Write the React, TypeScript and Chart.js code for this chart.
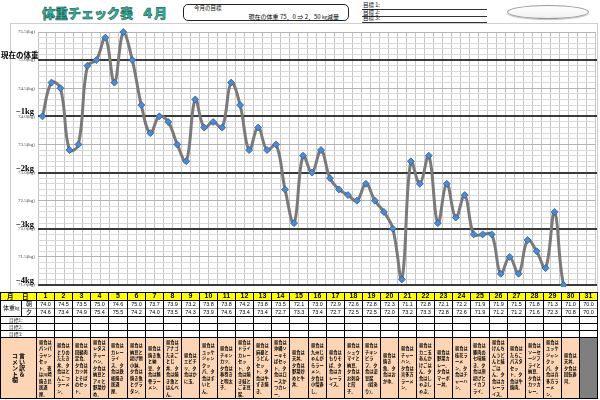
import React, { useEffect, useRef } from "react";
import { Chart, registerables } from "chart.js";

Chart.register(...registerables);

const DAYS = [1, 2, 3, 4, 5, 6, 7, 8, 9, 10, 11, 12, 13, 14, 15, 16, 17, 18, 19, 20, 21, 22, 23, 24, 25, 26, 27, 28, 29, 30, 31];
const MORNING = [74.0, 74.5, 73.5, 75.0, 74.6, 75.0, 73.7, 73.9, 73.2, 73.8, 73.8, 74.2, 73.8, 73.5, 72.1, 73.0, 72.9, 72.6, 72.8, 72.3, 71.1, 72.8, 72.1, 72.2, 71.9, 71.9, 71.5, 71.8, 71.3, 71.0, 70.0];
const EVENING = [74.6, 73.4, 74.9, 75.4, 75.5, 74.2, 74.0, 73.5, 74.3, 73.9, 74.6, 73.4, 73.4, 72.7, 73.3, 73.4, 72.7, 72.5, 72.5, 72.0, 73.2, 73.3, 72.8, 72.6, 71.9, 71.2, 71.2, 71.6, 72.3, 70.8, 70.0];
const Y_TICKS = [71.0, 71.5, 72.0, 72.5, 73.0, 73.5, 74.0, 74.5, 75.0, 75.5];
const Y_TICK_LABELS = ["71.0(kg)", "71.5(kg)", "72.0(kg)", "72.5(kg)", "73.0(kg)", "73.5(kg)", "74.0(kg)", "74.5(kg)", "75.0(kg)", "75.5(kg)"];
const GOAL_VALUES = [75, 74, 73, 72, 71];
const GOAL_LABELS = ["現在の体重", "−1kg", "−2kg", "−3kg", "−4kg"];
const GOAL_ROWS = ["目標 1:", "目標 2:", "目標 3:"];
const GOAL_ROW_LABELS = ["目標1:", "目標2:", "目標3:"];
const CURRENT_WEIGHT = "75．0";
const TARGET_LOSS = "2．50";
const COMMENTS = [
  "昼食はパンパラヤンセット。夜は川崎焼き鳥居酒屋。",
  "昼食はとりのたたき丼。夕食はとんこつラーメン。",
  "昼食は回鍋肉定食。夕食はカツ丼とそばのセット。",
  "昼食はレタスチャーハン。夕食は納豆とアミと野菜炒め。",
  "昼食はカレーライス。夕食は鉄板焼き居酒屋。",
  "昼食は納豆と揚げ物小鉢。夕食は焼き魚とグラタン。",
  "昼食は焼き魚と納豆。夕食は豚骨ラーメン。",
  "昼食はアナゴたまごとじ丼。夕食は焼き魚とはんぺん。",
  "昼食はエビチリ。夕食はかに玉。",
  "昼食はユッケジャンクッパ。夕食はすいとん。",
  "昼食はチキンカツ。夕食は春巻きと明太子。",
  "昼食はドライカレーセット。夕食は焼き鮭とごま豆腐。",
  "昼食は麻婆とうどんセット。夕食は牛すき焼き。",
  "昼食は沖縄ソーキそばセット。夕食はロースかつカレー。",
  "昼食は天丼。夕食は野菜炒めと牛丼。",
  "昼食は九州じゃんがらラーメン。夕食は小僧寿し。",
  "昼食はもりそば。夕食はカレーライス。",
  "昼食はシュウマイと納豆。夕食はお刺身と餃子。",
  "昼食はチキンピラフ。夕食は湯豆腐（鱈あり）。",
  "昼食は焼き魚。夕食はおかゆ。",
  "昼食はチャーハン。夕食は喜多方ラーメン。",
  "昼食はカニ玉あんかけごはん。夕食はしゃぶしゃぶ。",
  "昼食は野菜カレー。夕食はマーボー丼。",
  "昼食は桂花ラーメン。夕食はチャーハン。",
  "昼食は豚肉の七味焼き。夕食は唐揚げとイカフライ。",
  "昼食はけんちんうどんと鮭ごはん。夕食はカレーライス。",
  "昼食はたらこパスタセット。夕食は牛焼肉。",
  "昼食はソーセージフライと納豆。夕食はカツカレー。",
  "昼食はユッケジャンクッパ。夕食は喜多方ラーメン。",
  "昼食は天丼。夕食は回転寿司。",
  "",
];

const JP = '"Noto Sans CJK JP", sans-serif';
const SANS = '"Liberation Sans", "Noto Sans CJK JP", sans-serif';
const ROW_Y = [292, 300, 308, 316, 323, 330, 337, 398];
const colX = (i: number) => Math.round(36 + i * 18.1);

export default function App() {
  const canvasRef = useRef<HTMLCanvasElement>(null);

  useEffect(() => {
    if (!canvasRef.current) return;
    const labels = DAYS.flatMap((d) => [`${d}日朝`, `${d}日夕`]);
    const data = DAYS.flatMap((_, i) => [MORNING[i], EVENING[i]]);

    const framePlugin = {
      id: "frameAndGoals",
      beforeDraw(chart: any) {
        const { ctx } = chart;
        ctx.save();
        ctx.fillStyle = "#fff";
        ctx.fillRect(0, 0, chart.width, chart.height);
        ctx.strokeStyle = "#cfcfcf";
        ctx.lineWidth = 1;
        ctx.strokeRect(10.5, 0.5, 587, chart.height + 5);
        ctx.restore();
      },
      beforeDatasetsDraw(chart: any) {
        const { ctx, chartArea: a, scales } = chart;
        const y = scales.y;
        ctx.save();
        GOAL_VALUES.forEach((v, i) => {
          const py = Math.round(y.getPixelForValue(v));
          ctx.strokeStyle = "#3a3a3a";
          ctx.lineWidth = 2;
          ctx.beginPath();
          ctx.moveTo(a.left, py);
          ctx.lineTo(a.right + 2, py);
          ctx.stroke();
          ctx.fillStyle = "#000";
          ctx.textBaseline = "alphabetic";
          if (i === 0) {
            ctx.font = 'bold 7.5px "Noto Sans CJK JP"';
            ctx.textAlign = "left";
            ctx.fillText(GOAL_LABELS[i], 1, py - 2.5);
          } else {
            ctx.font = 'bold 8.5px "Liberation Serif"';
            ctx.textAlign = "right";
            ctx.fillText(GOAL_LABELS[i], 34, py - 2.5);
          }
        });
        ctx.restore();
      },
    };

    const chart = new Chart(canvasRef.current, {
      type: "line",
      data: {
        labels,
        datasets: [
          {
            data,
            borderColor: "#7a7a7a",
            borderWidth: 3,
            tension: 0.4,
            pointStyle: "rectRot",
            pointRadius: 3.5,
            pointBackgroundColor: "#4d8ad0",
            pointBorderColor: "#2c5f9e",
            pointBorderWidth: 0.8,
            clip: { left: 5, top: 5, right: 5, bottom: 2 } as any,
          },
        ],
      },
      options: {
        responsive: false,
        animation: false,
        layout: { padding: { left: 0, right: 5, top: 9, bottom: 8 } },
        plugins: { legend: { display: false }, tooltip: { enabled: false } },
        scales: {
          x: {
            type: "category",
            offset: true,
            grid: { offset: true, color: "#c6c6c6", drawTicks: false, lineWidth: 1 },
            ticks: { display: false },
            border: { display: false },
            afterFit: (s: any) => {
              s.height = 0;
            },
          },
          y: {
            min: 71,
            max: 75.5,
            afterFit: (s: any) => {
              s.width = 38;
            },
            ticks: {
              stepSize: 0.1,
              autoSkip: false,
              maxTicksLimit: 100,
              padding: 3,
              color: "#444",
              font: { size: 5, family: '"Liberation Serif"' },
              callback: (v: any) => {
                const i = Y_TICKS.findIndex((t) => Math.abs(t - Number(v)) < 1e-6);
                return i >= 0 ? Y_TICK_LABELS[i] : "";
              },
            },
            grid: {
              drawTicks: false,
              color: (ctx: any) => {
                const v = ctx.tick ? ctx.tick.value : 0;
                return Y_TICKS.some((t) => Math.abs(t - v) < 1e-6) ? "#b4b4b4" : "#dadada";
              },
            },
            border: { display: false },
          },
        },
      },
      plugins: [framePlugin],
    } as any);
    return () => chart.destroy();
  }, []);

  const cellCenter = (i: number, top: number, h: number, content: React.ReactNode, style: React.CSSProperties = {}, key?: string) => (
    <div
      key={key}
      style={{
        position: "absolute",
        left: colX(i) + 1,
        top,
        width: colX(i + 1) - colX(i) - 1,
        height: h,
        display: "flex",
        alignItems: "center",
        justifyContent: "center",
        whiteSpace: "nowrap",
        ...style,
      }}
    >
      {content}
    </div>
  );

  return (
    <div
      style={{
        position: "absolute",
        left: 0,
        top: 0,
        width: 600,
        height: 400,
        overflow: "hidden",
        background: "#fff",
        fontFamily: SANS,
        color: "#000",
      }}
    >
      {/* Title */}
      <div
        style={{
          position: "absolute",
          left: 42,
          top: 5,
          fontFamily: JP,
          fontWeight: 900,
          fontSize: 13,
          lineHeight: "15px",
          color: "#38b39d",
          WebkitTextStroke: "0.5px #0f4d44",
          whiteSpace: "nowrap",
        }}
      >
        体重チェック表<span style={{ marginLeft: 8 }}>４月</span>
      </div>

      {/* Goal box */}
      <div
        style={{
          position: "absolute",
          left: 183,
          top: 4,
          width: 166,
          height: 17,
          border: "1px solid #222",
          borderRadius: 5,
          boxSizing: "border-box",
          fontFamily: JP,
        }}
      >
        <div style={{ position: "absolute", left: 10, top: 0, fontSize: 5.5, lineHeight: "7px", whiteSpace: "nowrap" }}>今月の目標</div>
        <div style={{ position: "absolute", right: 9, top: 8, fontSize: 6, lineHeight: "7px", whiteSpace: "nowrap" }}>
          現在の体重 {CURRENT_WEIGHT} ⇒ {TARGET_LOSS} <span style={{ fontSize: 4.5 }}>kg</span>減量
        </div>
      </div>

      {/* Goal lines */}
      {GOAL_ROWS.map((g, i) => (
        <React.Fragment key={g}>
          <div
            style={{
              position: "absolute",
              left: 363,
              top: 2 + i * 6.5,
              fontSize: 5.5,
              lineHeight: "6px",
              fontFamily: JP,
              whiteSpace: "nowrap",
            }}
          >
            {g}
          </div>
          <div style={{ position: "absolute", left: 362, top: 9 + i * 6.5, width: 125, height: 1, background: "#333" }} />
        </React.Fragment>
      ))}

      {/* Oval */}
      <div
        style={{
          position: "absolute",
          left: 507,
          top: 5,
          width: 82,
          height: 14,
          border: "1px solid #9a9a9a",
          borderRadius: "50%",
          boxSizing: "border-box",
          background: "linear-gradient(#ffffff, #f1f1f1)",
          boxShadow: "0 1px 1px rgba(0,0,0,0.25)",
        }}
      />

      <canvas
        ref={canvasRef}
        width={600}
        height={270}
        style={{ position: "absolute", left: 0, top: 23, width: 600, height: 270 }}
      />

      {/* Table backgrounds */}
      <div style={{ position: "absolute", left: 0, top: ROW_Y[0], width: colX(31), height: ROW_Y[1] - ROW_Y[0], background: "#ffff00" }} />
      <div style={{ position: "absolute", left: 0, top: ROW_Y[1], width: colX(31), height: ROW_Y[6] - ROW_Y[1], background: "#fff" }} />
      <div style={{ position: "absolute", left: 0, top: ROW_Y[6], width: colX(31), height: ROW_Y[7] - ROW_Y[6], background: "#fcd5b4" }} />
      <div style={{ position: "absolute", left: colX(30), top: ROW_Y[6], width: colX(31) - colX(30), height: ROW_Y[7] - ROW_Y[6], background: "#7f7f7f" }} />

      {/* Table lines */}
      {ROW_Y.map((y) => (
        <div
          key={"h" + y}
          style={{
            position: "absolute",
            left: y === 308 ? 21 : 0,
            top: y,
            width: colX(31) + 1 - (y === 308 ? 21 : 0),
            height: 1,
            background: y === 308 ? "#9a9a9a" : "#000",
          }}
        />
      ))}
      <div style={{ position: "absolute", left: 0, top: ROW_Y[0], width: 1, height: ROW_Y[7] - ROW_Y[0] + 1, background: "#000" }} />
      <div style={{ position: "absolute", left: 21, top: ROW_Y[1], width: 1, height: ROW_Y[3] - ROW_Y[1], background: "#000" }} />
      {DAYS.concat([32]).map((_, i) => (
        <div
          key={"v" + i}
          style={{ position: "absolute", left: colX(i), top: ROW_Y[0], width: 1, height: ROW_Y[7] - ROW_Y[0] + 1, background: "#000" }}
        />
      ))}

      {/* Header labels */}
      <div style={{ position: "absolute", left: 7, top: 292, fontFamily: JP, fontWeight: 700, fontSize: 6.5, lineHeight: "9px" }}>月</div>
      <div style={{ position: "absolute", left: 22, top: 292, fontFamily: JP, fontWeight: 700, fontSize: 6.5, lineHeight: "9px" }}>日</div>
      <div style={{ position: "absolute", left: 3, top: 304, fontFamily: JP, fontSize: 6, lineHeight: "8px", whiteSpace: "nowrap" }}>
        体重<span style={{ fontSize: 4 }}>kg</span>
      </div>
      <div style={{ position: "absolute", left: 26, top: 300, fontFamily: JP, fontSize: 6, lineHeight: "8px" }}>朝</div>
      <div style={{ position: "absolute", left: 26, top: 308, fontFamily: JP, fontSize: 6, lineHeight: "8px" }}>夕</div>
      {GOAL_ROW_LABELS.map((g, i) => (
        <div
          key={g}
          style={{
            position: "absolute",
            left: 9,
            top: ROW_Y[3 + i],
            height: ROW_Y[4 + i] - ROW_Y[3 + i],
            fontFamily: JP,
            fontSize: 4.8,
            lineHeight: `${ROW_Y[4 + i] - ROW_Y[3 + i] + 1}px`,
            color: "#333",
            whiteSpace: "nowrap",
          }}
        >
          {g}
        </div>
      ))}
      <div
        style={{
          position: "absolute",
          left: 1,
          top: ROW_Y[6] + 1,
          width: 35,
          height: ROW_Y[7] - ROW_Y[6] - 1,
          display: "flex",
          alignItems: "center",
          justifyContent: "center",
        }}
      >
        <div style={{ writingMode: "vertical-rl", fontFamily: JP, fontWeight: 700, fontSize: 6, lineHeight: "7px" }}>
          言い訳＆
          <br />
          コメント欄
        </div>
      </div>

      {/* Day columns */}
      {DAYS.map((d, i) => (
        <React.Fragment key={"d" + d}>
          {cellCenter(i, 292, 8, d, { fontWeight: 700, fontSize: 7, lineHeight: "8px" })}
          {cellCenter(i, 300, 8, MORNING[i].toFixed(1), { fontSize: 5.5, lineHeight: "8px" })}
          {cellCenter(i, 308, 8, EVENING[i].toFixed(1), { fontSize: 5.5, lineHeight: "8px" })}
          {COMMENTS[i] ? (
            <div
              style={{
                position: "absolute",
                left: colX(i) + 1,
                top: ROW_Y[6] + 1,
                width: colX(i + 1) - colX(i) - 1,
                height: ROW_Y[7] - ROW_Y[6] - 1,
                display: "flex",
                alignItems: "center",
                boxSizing: "border-box",
                padding: "0 2px",
              }}
            >
              <div style={{ fontFamily: JP, fontWeight: 700, fontSize: 4.2, lineHeight: "6.5px", wordBreak: "break-all" }}>{COMMENTS[i]}</div>
            </div>
          ) : null}
        </React.Fragment>
      ))}
    </div>
  );
}
